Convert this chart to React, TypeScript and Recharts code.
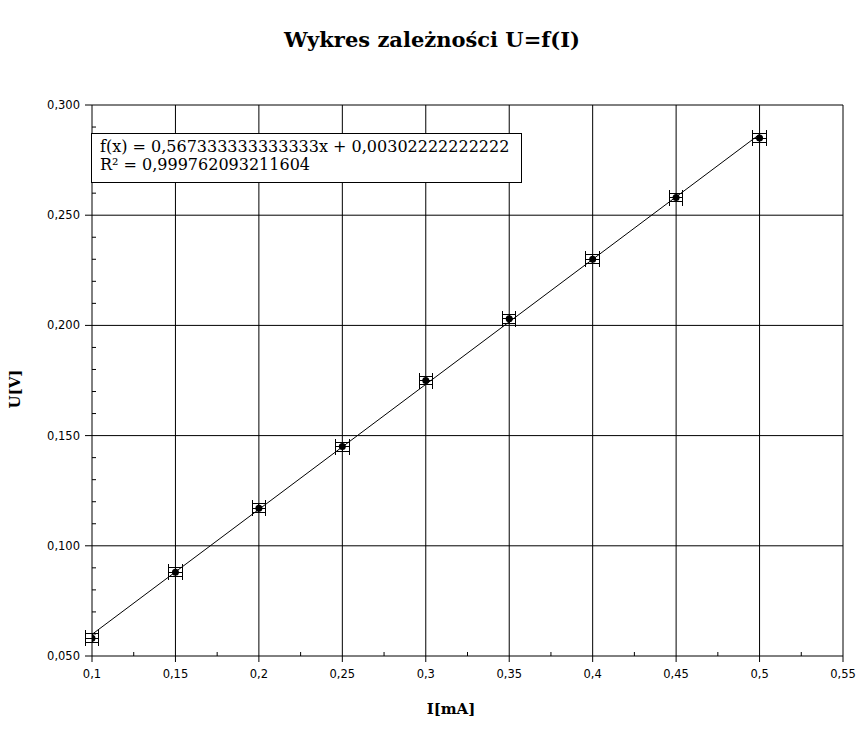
import React from "react";
import { ScatterChart, Scatter, XAxis, YAxis, ErrorBar, ReferenceLine } from "recharts";

// pomiary: natężenie [mA] i napięcie [V]
const currentMA = [0.1, 0.15, 0.2, 0.25, 0.3, 0.35, 0.4, 0.45, 0.5];
const voltageV = [0.058, 0.088, 0.117, 0.145, 0.175, 0.203, 0.23, 0.258, 0.285];
const currentErr = [0.004, 0.004, 0.004, 0.004, 0.004, 0.004, 0.004, 0.004, 0.004];
const voltageErr = [0.002, 0.002, 0.002, 0.002, 0.002, 0.002, 0.002, 0.002, 0.002];

// linia trendu (końce)
const trendX = [0.1, 0.5];
const trendY = [0.0598, 0.2867];

const xMajor = [0.1, 0.15, 0.2, 0.25, 0.3, 0.35, 0.4, 0.45, 0.5, 0.55];
const xMinor = [0.125, 0.175, 0.225, 0.275, 0.325, 0.375, 0.425, 0.475, 0.525];
const yMajor = [0.05, 0.1, 0.15, 0.2, 0.25, 0.3];
const yMinor = [
  0.06, 0.07, 0.08, 0.09, 0.11, 0.12, 0.13, 0.14, 0.16, 0.17, 0.18, 0.19,
  0.21, 0.22, 0.23, 0.24, 0.26, 0.27, 0.28, 0.29,
];

const measured = currentMA.map((x, i) => ({ x, y: voltageV[i], dx: currentErr[i], dy: voltageErr[i] }));
const trend = trendX.map((x, i) => ({ x, y: trendY[i] }));

const isMajor = (list: number[], v: number) => list.some((m) => Math.abs(m - v) < 1e-9);
const comma = (s: string) => s.replace(".", ",");

const tickFont = { fontFamily: "DejaVu Sans", fontSize: 11.5, fill: "#000" };

const XTick = ({ x, y, payload }: any) => {
  if (!isMajor(xMajor, payload.value)) {
    return <line x1={x} x2={x} y1={y} y2={y - 4} stroke="#000" />;
  }
  return (
    <g>
      <line x1={x} x2={x} y1={y} y2={y + 6} stroke="#000" />
      <text x={x} y={y + 22} textAnchor="middle" {...tickFont}>
        {comma(String(payload.value))}
      </text>
    </g>
  );
};

const YTick = ({ x, y, payload }: any) => {
  if (!isMajor(yMajor, payload.value)) {
    return <line x1={x} x2={x + 4} y1={y} y2={y} stroke="#000" />;
  }
  return (
    <g>
      <line x1={x - 7} x2={x} y1={y} y2={y} stroke="#000" />
      <text x={x - 12} y={y + 4} textAnchor="end" {...tickFont}>
        {comma(payload.value.toFixed(3))}
      </text>
    </g>
  );
};

const Dot = (p: any) => <circle cx={p.cx} cy={p.cy} r={3.5} fill="#000" />;

export default function App() {
  return (
    <div style={{ position: "absolute", left: 0, top: 0, width: 866, height: 729, background: "#fff" }}>
      <ScatterChart width={866} height={729} margin={{ top: 105, right: 23, bottom: 0, left: 0 }}>
        <XAxis
          type="number"
          dataKey="x"
          domain={[0.1, 0.55]}
          ticks={[...xMajor, ...xMinor].sort((a, b) => a - b)}
          height={73}
          tickSize={0}
          tickMargin={0}
          tickLine={false}
          axisLine={{ stroke: "#000" }}
          tick={<XTick />}
          interval={0}
          allowDataOverflow
        />
        <YAxis
          type="number"
          dataKey="y"
          domain={[0.05, 0.3]}
          ticks={[...yMajor, ...yMinor].sort((a, b) => a - b)}
          width={92}
          tickSize={0}
          tickMargin={0}
          tickLine={false}
          axisLine={{ stroke: "#000" }}
          tick={<YTick />}
          interval={0}
          allowDataOverflow
        />
        {xMajor.slice(1).map((v) => (
          <ReferenceLine key={`gx-${v}`} x={v} stroke="#000" strokeWidth={1} />
        ))}
        {yMajor.slice(1).map((v) => (
          <ReferenceLine key={`gy-${v}`} y={v} stroke="#000" strokeWidth={1} />
        ))}
        <Scatter
          data={trend}
          line={{ stroke: "#000", strokeWidth: 1 }}
          shape={() => <g />}
          isAnimationActive={false}
        />
        <Scatter data={measured} shape={<Dot />} isAnimationActive={false}>
          <ErrorBar
            dataKey="dx"
            direction="x"
            width={8}
            stroke="#000"
            strokeWidth={1}
            shapeRendering="crispEdges"
            isAnimationActive={false}
          />
          <ErrorBar
            dataKey="dy"
            direction="y"
            width={7}
            stroke="#000"
            strokeWidth={1}
            shapeRendering="crispEdges"
            isAnimationActive={false}
          />
        </Scatter>
      </ScatterChart>
      <svg width={866} height={729} style={{ position: "absolute", left: 0, top: 0, pointerEvents: "none" }}>
        <text x={432} y={47} textAnchor="middle" fontFamily="DejaVu Serif" fontWeight="bold" fontSize={21}>
          Wykres zależności U=f(I)
        </text>
        <text x={451} y={714} textAnchor="middle" fontFamily="DejaVu Serif" fontWeight="bold" fontSize={15}>
          I[mA]
        </text>
        <text
          transform="translate(20,389) rotate(-90)"
          textAnchor="middle"
          fontFamily="DejaVu Serif"
          fontWeight="bold"
          fontSize={15}
        >
          U[V]
        </text>
        <rect x={91.5} y={133.5} width={430} height={49} fill="#fff" stroke="#000" />
        <text x={100} y={152} fontFamily="DejaVu Serif" fontSize={16}>
          f(x) = 0,567333333333333x + 0,00302222222222
        </text>
        <text x={100} y={170} fontFamily="DejaVu Serif" fontSize={16}>
          R² = 0,999762093211604
        </text>
      </svg>
    </div>
  );
}
